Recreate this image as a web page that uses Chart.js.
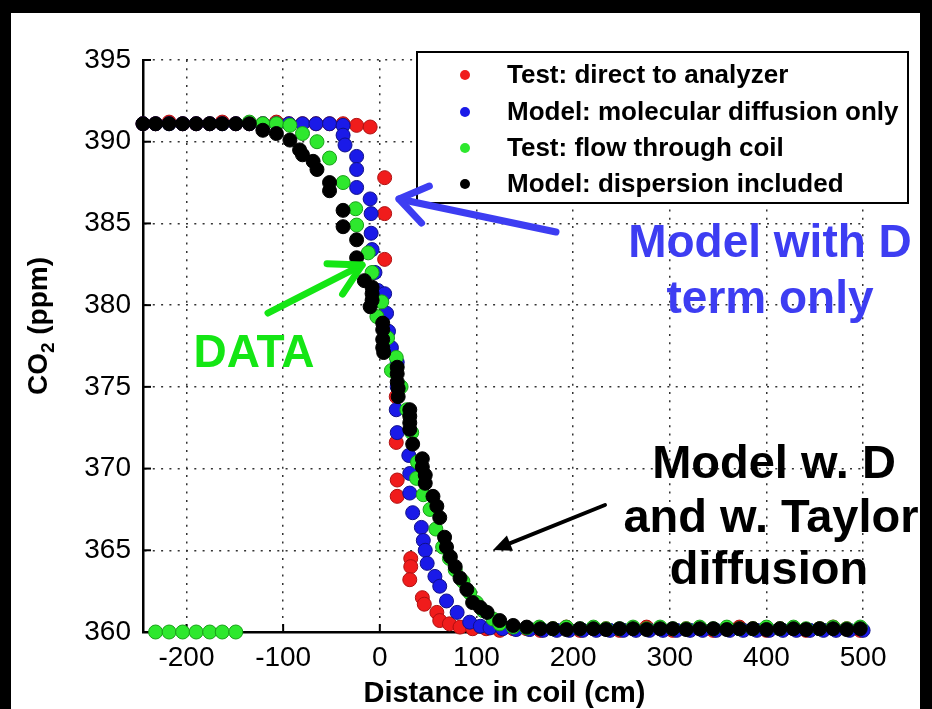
<!DOCTYPE html>
<html><head><meta charset="utf-8">
<script src="https://cdn.jsdelivr.net/npm/chart.js@4.4.1/dist/chart.umd.min.js"></script>
<style>
html,body{margin:0;padding:0;background:#000;overflow:hidden;}
#wrap{position:absolute;left:0;top:0;width:932px;height:709px;}
#panel{position:absolute;left:11px;top:13px;width:909px;height:696px;background:#fff;}
#c{position:absolute;left:0;top:0;width:932px;height:709px;}
</style></head>
<body><div id="wrap"><div id="panel"></div><canvas id="c" width="932" height="709"></canvas></div>
<script>
// ---- tick labels / titles ----
const xTicks = [-200,-100,0,100,200,300,400,500];
const yTicks = [360,365,370,375,380,385,390,395];
const xTitle = 'Distance in coil (cm)';
const seriesNames = ['Test: direct to analyzer','Model: molecular diffusion only','Test: flow through coil','Model: dispersion included'];

// ---- Test: direct to analyzer (red) ----
const redX = [-245,-232,-218,-204,-190,-176,-163,-149,-135,-121,-107,-94,-80,-66,-52,-38,-24,-10,
  5,5,5, 17,17,18,18, 32,32,31, 44,46,59,62,72,83,96,
  110,124,138,152,166,179,193,207,221,234,248,262,276,290,303,317,331,345,359,372,386,400,414,428,441,455,469,483,497];
const redY = [391.1,391.1,391.2,391.1,391.1,391.1,391.2,391.1,391.1,391.1,391.2,391.1,391.1,391.1,391.1,391.1,391.0,390.9,
  387.8,385.6,382.8, 374.4,371.6,369.3,368.3, 364.5,364.0,363.2, 362.1,361.7,361.2,360.7,360.5,360.3,360.2,
  360.2,360.1,360.2,360.2,360.1,360.2,360.3,360.1,360.2,360.2,360.1,360.2,360.3,360.2,360.1,360.2,360.2,360.1,360.2,360.3,360.2,360.1,360.2,360.2,360.1,360.2,360.3,360.2,360.1];

// ---- Model: molecular diffusion only (blue) ----
const blueX = [-245,-232,-218,-204,-190,-176,-163,-149,-135,-121,-107,-94,-80,-66,-52,
  -38,-38,-36,-24,-24,-24, -10,-9,-9,-8,-5,-2, 5,7,9,12, 18,18,17,18, 30,31,31,34, 43,45,47,49, 57,62,69,80,93,104,
  114,127,141,155,169,183,196,210,224,238,252,265,279,293,307,321,334,348,362,376,390,403,417,431,445,459,472,486,500];
const blueY = [391.1,391.1,391.1,391.1,391.1,391.1,391.1,391.1,391.1,391.1,391.1,391.1,391.1,391.1,391.1,
  391.0,390.4,389.8,389.1,388.3,387.2, 386.5,385.6,384.4,383.4,382.0,380.9, 380.7,379.5,378.4,377.4, 376.5,375.0,373.6,372.2,
  370.8,369.7,368.5,367.3, 366.4,365.6,365.0,364.2, 363.4,362.8,361.9,361.2,360.6,360.35,
  360.25,360.2,360.15,360.15,360.1,360.1,360.1,360.1,360.1,360.1,360.1,360.1,360.1,360.1,360.1,360.1,360.1,360.1,360.1,360.1,360.1,360.1,360.1,360.1,360.1,360.1,360.1,360.1,360.1];

// ---- Test: flow through coil (green) ----
const greenX = [-232,-218,-204,-190,-176,-163,-149,
  -135,-121,-107,-93,-80,-65,-52,-38,-25,-24,-12, -8,-3,2,8, 12,17,22,28,33,39,38,
  45,52,58,65,72,78,86,93,100,107,117,124,138,152,
  165,179,193,207,221,234,248,262,276,290,303,317,331,345,359,372,386,400,414,428,441,455,469,483,497];
const greenY = [360,360,360,360,360,360,360,
  391.2,391.1,391.1,391.0,390.5,390.0,389.0,387.5,385.9,384.9,383.2, 382.0,379.3,380.2,378.0, 376.0,376.8,375.0,373.6,372.2,370.4,369.4,
  368.4,367.5,366.3,365.2,364.5,363.8,363.1,362.4,361.8,361.3,360.8,360.5,360.3,360.25,
  360.3,360.2,360.3,360.2,360.3,360.2,360.2,360.3,360.2,360.3,360.2,360.2,360.3,360.2,360.3,360.2,360.2,360.3,360.2,360.3,360.2,360.2,360.3,360.2,360.3];

// ---- Model: dispersion included (black) ----
const blackX = [-245,-232,-218,-204,-190,-176,-163,-149,-135,
  -121,-107,-93,-83,-80,-69,-65,-52,-52, -38,-38,-24,-24,-16,-8,-8,-8,-10,
  3,3,3,3,4, 18,18,18,19,19, 31,31,31,31,34,
  44,44,47,47,55,59,62,67,69,73,78,83,90,96,104,111,124,138,152,
  166,179,193,207,221,234,248,262,276,290,303,317,331,345,359,372,386,400,414,428,441,455,469,483,497];
const blackY = [391.1,391.1,391.1,391.1,391.1,391.1,391.1,391.1,391.1,
  390.7,390.5,390.1,389.5,389.2,388.8,388.3,387.5,387.0, 385.8,384.8,384.0,382.9,381.5,381.1,380.7,380.3,379.9,
  378.9,378.5,377.9,377.4,377.1, 376.2,375.8,375.3,374.9,374.4, 373.6,373.2,372.8,372.4,371.5,
  370.6,370.1,369.6,369.1,368.3,367.7,367.0,365.8,365.2,364.6,364.0,363.3,362.6,361.8,361.5,361.2,360.7,360.4,360.3,
  360.2,360.2,360.15,360.2,360.2,360.15,360.2,360.2,360.15,360.2,360.2,360.15,360.2,360.2,360.15,360.2,360.2,360.15,360.2,360.2,360.15,360.2,360.2,360.15,360.2];

const FONT = '"Liberation Sans", Arial, sans-serif';
function pts(xs, ys){ const out=[]; for(let i=0;i<xs.length && i<ys.length;i++) out.push({x:xs[i], y:ys[i]}); return out; }
const colors = ['#f01c1c','#1a1ae8','#2ee82e','#000000'];
const rims = ['#b01010','#10108a','#18a018','#000000'];

function ds(i, data, order){
  return {label: seriesNames[i], data, backgroundColor: colors[i], borderColor: rims[i], borderWidth: 1,
    pointRadius: 7, pointHoverRadius: 7, showLine: false, order, clip: false};
}

const innerTicks = {
  id:'innerTicks',
  beforeDatasetsDraw(chart){
    const {ctx, chartArea:a, scales:{x,y}} = chart;
    ctx.save(); ctx.strokeStyle='#000'; ctx.lineWidth=2;
    xTicks.forEach(v=>{const px=x.getPixelForValue(v); ctx.beginPath(); ctx.moveTo(px,a.bottom); ctx.lineTo(px,a.bottom-8); ctx.stroke();});
    yTicks.forEach(v=>{const py=y.getPixelForValue(v); ctx.beginPath(); ctx.moveTo(a.left,py); ctx.lineTo(a.left+8,py); ctx.stroke();});
    ctx.restore();
  }
};

const legendBox = {
  id:'legendBox',
  afterDatasetsDraw(chart){
    const ctx = chart.ctx;
    ctx.save();
    ctx.fillStyle='#fff'; ctx.fillRect(417,52,491,151);
    ctx.strokeStyle='#000'; ctx.lineWidth=2; ctx.strokeRect(417,52,491,151);
    const rows=[75,112,148,184];
    chart.data.datasets.forEach((d,i)=>{
      ctx.fillStyle=d.backgroundColor; ctx.beginPath(); ctx.arc(465,rows[i],5,0,Math.PI*2); ctx.fill();
      ctx.fillStyle='#000'; ctx.font='bold 26px '+FONT; ctx.textBaseline='middle'; ctx.textAlign='left';
      ctx.fillText(d.label,507,rows[i]+1);
    });
    ctx.restore();
  }
};

function arrow(ctx,x1,y1,x2,y2,color,w,head,ang,filled){
  const a=Math.atan2(y1-y2,x1-x2);
  ctx.save(); ctx.strokeStyle=color; ctx.fillStyle=color; ctx.lineWidth=w; ctx.lineCap='round'; ctx.lineJoin='round';
  const ux=x2+Math.cos(a-ang)*head, uy=y2+Math.sin(a-ang)*head;
  const lx=x2+Math.cos(a+ang)*head, ly=y2+Math.sin(a+ang)*head;
  if(filled){
    ctx.beginPath(); ctx.moveTo(x1,y1); ctx.lineTo(x2+Math.cos(a)*head*0.8,y2+Math.sin(a)*head*0.8); ctx.stroke();
    ctx.beginPath(); ctx.moveTo(x2,y2); ctx.lineTo(ux,uy); ctx.lineTo(lx,ly); ctx.closePath(); ctx.fill();
  } else {
    ctx.beginPath(); ctx.moveTo(x1,y1); ctx.lineTo(x2,y2); ctx.stroke();
    ctx.beginPath(); ctx.moveTo(ux,uy); ctx.lineTo(x2,y2); ctx.lineTo(lx,ly); ctx.stroke();
  }
  ctx.restore();
}

const annotations = {
  id:'annotations',
  afterDraw(chart){
    const ctx = chart.ctx;
    ctx.save();
    // y axis title with subscript
    ctx.save(); ctx.translate(37,326); ctx.rotate(-Math.PI/2); ctx.fillStyle='#000'; ctx.textBaseline='alphabetic'; ctx.textAlign='left';
    const f='bold 28px '+FONT, fs='bold 19px '+FONT;
    ctx.font=f; const w1=ctx.measureText('CO').width, w3=ctx.measureText(' (ppm)').width;
    ctx.font=fs; const w2=ctx.measureText('2').width;
    let x0=-(w1+w2+w3)/2; const base=10;
    ctx.font=f; ctx.fillText('CO',x0,base);
    ctx.font=fs; ctx.fillText('2',x0+w1,base+7);
    ctx.font=f; ctx.fillText(' (ppm)',x0+w1+w2,base);
    ctx.restore();

    ctx.textAlign='center'; ctx.textBaseline='alphabetic';
    ctx.font='bold 46px '+FONT;
    ctx.fillStyle='#3d3df2';
    ctx.fillText('Model with D',770,257);
    ctx.fillText('term only',770,313);
    ctx.fillStyle='#14e614';
    ctx.fillText('DATA',254,367);
    ctx.fillStyle='#000';
    ctx.font='bold 47px '+FONT;
    ctx.fillText('Model w. D',774,478);
    ctx.fillText('and w. Taylor',771,532);
    ctx.fillText('diffusion',769,584);
    ctx.restore();

    arrow(ctx,556,232,399,199,'#3d3df2',7,33,0.61,false);
    arrow(ctx,268,313,362,265,'#14e614',7,35,0.51,false);
    arrow(ctx,605,505,493,550,'#000',4,20,0.42,true);
  }
};

new Chart(document.getElementById('c'), {
  type:'scatter',
  data:{datasets:[
    ds(0, pts(redX,redY), 4),
    ds(1, pts(blueX,blueY), 3),
    ds(2, pts(greenX,greenY), 2),
    ds(3, pts(blackX,blackY), 1)
  ]},
  options:{
    responsive:false, animation:false, devicePixelRatio:1,
    layout:{padding:{top:60,right:66,left:0,bottom:0}},
    plugins:{legend:{display:false}, tooltip:{enabled:false}},
    scales:{
      x:{type:'linear', min:-245, max:503,
        afterBuildTicks:s=>{s.ticks=xTicks.map(v=>({value:v}));},
        afterFit:s=>{s.height=77;},
        grid:{color:'#333', lineWidth:1.5, drawTicks:false},
        border:{display:true,color:'#000',width:2.5,dash:[2,6.3]},
        ticks:{font:{family:FONT,size:28},color:'#000',padding:9,maxRotation:0,autoSkip:false},
        title:{display:true,text:xTitle,font:{family:FONT,size:29,weight:'bold'},color:'#000',padding:{top:0,bottom:-2}}
      },
      y:{type:'linear', min:360, max:395,
        afterBuildTicks:s=>{s.ticks=yTicks.map(v=>({value:v}));},
        afterFit:s=>{s.width=143;},
        grid:{color:'#333', lineWidth:1.5, drawTicks:false},
        border:{display:true,color:'#000',width:2.5,dash:[2,6.3]},
        ticks:{font:{family:FONT,size:28},color:'#000',padding:12,autoSkip:false}
      }
    }
  },
  plugins:[innerTicks, legendBox, annotations]
});
</script></body></html>
